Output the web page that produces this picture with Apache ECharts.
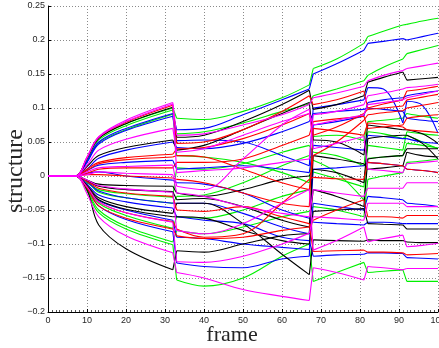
<!DOCTYPE html>
<html>
<head>
<meta charset="utf-8">
<script src="https://cdn.jsdelivr.net/npm/echarts@6/dist/echarts.min.js"></script>
<style>
  html, body { margin: 0; padding: 0; background: #fff; }
  #chart { width: 439px; height: 348px; }
</style>
</head>
<body>
<div id="chart"></div>
<script>
// Key frames of each tracking segment; the structure values jump between segments.
const segmentFrames = [
  [0, 7, 10, 13, 20, 32],
  [33, 40, 50, 60, 67],
  [68, 74, 81],
  [82, 86, 91],
  [92, 96, 100]
];

// One row per trajectory: values at the key frames above, segment after segment.
const greenLines = [
  [0,0,0.026,0.056,0.077,0.100, 0.085,0.083,0.095,0.115,0.134, 0.158,0.172,0.195, 0.205,0.213,0.222, 0.223,0.228,0.232],
  [0,0,0.024,0.053,0.074,0.097, 0.062,0.065,0.078,0.095,0.106, 0.118,0.128,0.140, 0.148,0.160,0.172, 0.180,0.186,0.192],
  [0,0,0.022,0.049,0.068,0.091, 0.030,0.028,0.020,0.005,-0.010, 0.058,0.060,0.052, 0.080,0.082,0.085, 0.092,0.088,0.085],
  [0,0,-0.010,-0.020,-0.026,-0.031, 0.012,0.010,0.018,0.035,0.045, 0.035,0.030,0.015, 0.065,0.062,0.055, 0.060,0.050,0.040],
  [0,0,-0.008,-0.024,-0.032,-0.040, -0.030,-0.028,-0.010,0.015,0.030, 0.023,0.005,-0.035, 0.026,0.028,0.030, 0.048,0.045,0.041],
  [0,0,-0.016,-0.040,-0.058,-0.077, -0.060,-0.062,-0.050,-0.030,-0.020, 0.006,-0.004,-0.016, 0.045,0.042,0.038, 0.065,0.062,0.060],
  [0,0,-0.020,-0.050,-0.074,-0.097, -0.080,-0.085,-0.075,-0.060,-0.052, -0.045,-0.050,-0.060, -0.005,0.000,0.005, 0.020,0.022,0.025],
  [0,0,-0.022,-0.054,-0.078,-0.101, -0.153,-0.162,-0.150,-0.118,-0.100, -0.155,-0.142,-0.127, -0.142,-0.140,-0.138, -0.155,-0.155,-0.155]
];

const blueLines = [
  [0,0,0.022,0.050,0.070,0.092, 0.068,0.070,0.090,0.112,0.128, 0.150,0.165,0.185, 0.195,0.198,0.202, 0.200,0.205,0.210],
  [0,0,0.020,0.047,0.067,0.088, 0.052,0.053,0.050,0.030,0.015, 0.100,0.105,0.112, 0.130,0.128,0.078, 0.110,0.104,0.063],
  [0,0,0.010,0.026,0.038,0.050, 0.042,0.040,0.048,0.065,0.080, 0.092,0.095,0.098, 0.100,0.098,0.095, 0.085,0.082,0.080],
  [0,0,0.008,0.016,0.020,0.023, 0.010,0.012,0.015,0.010,0.005, 0.045,0.042,0.038, 0.060,0.058,0.055, 0.055,0.050,0.048],
  [0,0,0.004,0.006,0.000,-0.006, -0.010,-0.012,-0.025,-0.050,-0.062, -0.068,-0.070,-0.072, -0.068,-0.068,-0.070, -0.070,-0.070,-0.070],
  [0,0,-0.008,-0.022,-0.032,-0.040, -0.040,-0.040,-0.055,-0.075,-0.085, 0.010,0.012,0.015, 0.020,0.018,0.015, 0.010,0.008,0.005],
  [0,0,-0.012,-0.028,-0.038,-0.047, -0.060,-0.065,-0.070,-0.090,-0.095, -0.118,-0.116,-0.115, -0.113,-0.113,-0.114, -0.120,-0.121,-0.122],
  [0,0,-0.016,-0.036,-0.050,-0.065, -0.090,-0.092,-0.100,-0.105,-0.108, -0.040,-0.045,-0.050, -0.030,-0.032,-0.035, -0.040,-0.042,-0.045],
  [0,0,-0.018,-0.044,-0.064,-0.082, -0.128,-0.133,-0.135,-0.122,-0.118, 0.075,0.080,0.088, 0.108,0.112,0.115, 0.118,0.122,0.125]
];

const blackLines = [
  [0,0,0.026,0.055,0.077,0.101, 0.057,0.060,0.080,0.105,0.126, 0.098,0.105,0.118, 0.138,0.145,0.153, 0.141,0.143,0.145],
  [0,0,0.014,0.030,0.042,0.053, 0.038,0.045,0.068,0.092,0.108, 0.053,0.050,0.031, 0.075,0.072,0.068, 0.068,0.062,0.048],
  [0,0,-0.006,-0.012,-0.014,-0.015, -0.025,-0.030,-0.020,-0.005,0.000, 0.010,0.005,-0.010, 0.055,0.058,0.060, 0.060,0.048,0.025],
  [0,0,-0.007,-0.015,-0.020,-0.023, -0.035,-0.033,-0.045,-0.065,-0.075, -0.020,-0.030,-0.045, 0.025,0.028,0.030, 0.040,0.040,0.040],
  [0,0,-0.014,-0.032,-0.045,-0.055, -0.040,-0.040,-0.070,-0.115,-0.145, -0.094,-0.095,-0.096, -0.094,-0.095,-0.095, -0.097,-0.098,-0.098],
  [0,0,-0.015,-0.035,-0.049,-0.060, -0.060,-0.062,-0.080,-0.095,-0.100, -0.052,-0.050,-0.048, -0.070,-0.071,-0.072, -0.078,-0.078,-0.078],
  [0,0,-0.020,-0.072,-0.107,-0.138, -0.110,-0.112,-0.100,-0.088,-0.085, 0.030,0.025,0.018, 0.010,0.012,0.015, 0.035,0.030,0.028]
];

const redLines = [
  [0,0,0.027,0.057,0.079,0.104, 0.048,0.050,0.068,0.095,0.118, 0.105,0.112,0.125, 0.100,0.106,0.112, 0.125,0.128,0.132],
  [0,0,0.010,0.020,0.027,0.032, 0.040,0.042,0.055,0.075,0.092, 0.060,0.072,0.092, 0.098,0.100,0.103, 0.112,0.116,0.120],
  [0,0,0.008,0.018,0.024,0.028, 0.030,0.028,0.010,-0.010,-0.020, 0.030,0.050,0.082, 0.090,0.093,0.096, 0.100,0.104,0.108],
  [0,0,0.004,0.010,0.012,0.012, 0.020,0.020,0.025,0.045,0.060, 0.080,0.084,0.088, 0.070,0.072,0.075, 0.085,0.088,0.090],
  [0,0,0.002,0.002,0.000,-0.003, -0.005,-0.010,-0.025,-0.040,-0.045, 0.070,0.066,0.060, 0.078,0.076,0.072, 0.068,0.066,0.064],
  [0,0,-0.008,-0.018,-0.025,-0.030, -0.050,-0.052,-0.045,-0.060,-0.070, -0.111,-0.110,-0.109, -0.112,-0.112,-0.113, -0.116,-0.115,-0.114],
  [0,0,-0.016,-0.038,-0.054,-0.067, -0.078,-0.090,-0.085,-0.040,-0.005, -0.002,-0.004,-0.005, 0.020,0.018,0.015, 0.010,0.008,0.005],
  [0,0,-0.018,-0.044,-0.062,-0.078, -0.088,-0.092,-0.090,-0.080,-0.075, -0.065,-0.050,-0.035, -0.060,-0.060,-0.062, -0.058,-0.058,-0.058]
];

const magentaLines = [
  [0,0,0.028,0.058,0.082,0.108, 0.060,0.062,0.075,0.090,0.105, 0.115,0.122,0.132, 0.140,0.148,0.155, 0.158,0.162,0.166],
  [0,0,0.027,0.057,0.080,0.106, 0.005,0.008,0.012,0.020,0.025, 0.090,0.095,0.105, 0.118,0.122,0.128, 0.130,0.132,0.135],
  [0,0,0.016,0.038,0.054,0.070, 0.035,0.040,0.060,0.080,0.092, 0.075,0.082,0.090, 0.105,0.108,0.112, 0.115,0.120,0.125],
  [0,0,0.006,0.012,0.014,0.016, -0.015,-0.020,0.025,0.075,0.098, 0.040,0.048,0.058, 0.010,0.008,0.005, 0.018,0.020,0.022],
  [0,0,0.002,0.006,0.004,0.002, -0.025,-0.030,-0.045,-0.055,-0.060, -0.020,-0.025,-0.030, -0.018,-0.018,-0.018, -0.010,-0.010,-0.010],
  [0,0,-0.006,-0.014,-0.019,-0.024, -0.080,-0.085,-0.070,-0.040,-0.020, -0.109,-0.095,-0.075, -0.097,-0.092,-0.087, -0.104,-0.102,-0.099],
  [0,0,-0.016,-0.038,-0.054,-0.068, -0.126,-0.127,-0.118,-0.100,-0.084, -0.060,-0.062,-0.065, -0.040,-0.040,-0.040, -0.045,-0.045,-0.045],
  [0,0,-0.026,-0.060,-0.088,-0.113, -0.142,-0.150,-0.167,-0.177,-0.183, -0.135,-0.142,-0.153, -0.133,-0.135,-0.138, -0.136,-0.136,-0.136]
];

const lineGroups = [
  { rows: greenLines, color: '#00f000' },
  { rows: blueLines, color: '#0000ff' },
  { rows: blackLines, color: '#000000' },
  { rows: redLines, color: '#ff0000' },
  { rows: magentaLines, color: '#ff00ff' }
];

// Each trajectory: one smooth curve per segment (gaps between segments),
// plus straight connectors for the jumps at segment borders.
function trajectorySeries(row, color) {
  const curve = [];
  const jumps = [];
  let i = 0;
  let last = null;
  segmentFrames.forEach((frames, s) => {
    if (s > 0) {
      curve.push([frames[0], null]);
      jumps.push(last, [frames[0], row[i]], [frames[0], null]);
    }
    frames.forEach(f => {
      curve.push([f, row[i]]);
      last = [f, row[i]];
      i++;
    });
  });
  const common = {
    type: 'line', showSymbol: false, symbol: 'none', silent: true,
    connectNulls: false, animation: false,
    lineStyle: { color: color, width: 1.1 }
  };
  return [
    Object.assign({}, common, { data: curve, smooth: 0.35 }),
    Object.assign({}, common, { data: jumps, smooth: false })
  ];
}

const series = [];
lineGroups.forEach(g => g.rows.forEach(r => series.push(...trajectorySeries(r, g.color))));

const tickFont = { fontFamily: 'Liberation Sans, Arial, sans-serif', fontSize: 9, color: '#262626' };
const nameFont = { fontFamily: 'Liberation Serif, Times New Roman, serif', color: '#262626' };
const gridDots = { show: true, lineStyle: { color: '#8a8a8a', width: 1, type: [1, 2] } };

const chart = echarts.init(document.getElementById('chart'), null, { renderer: 'canvas' });
chart.setOption({
  animation: false,
  backgroundColor: '#ffffff',
  grid: { left: 48, right: 1, top: 6, bottom: 36, containLabel: false, outerBoundsMode: 'none' },
  xAxis: {
    type: 'value', min: 0, max: 100, interval: 10,
    name: 'frame', nameLocation: 'middle', nameGap: 12, nameMoveOverlap: false,
    nameTextStyle: Object.assign({ fontSize: 22, padding: [0, 22, 0, 0] }, nameFont),
    axisLine: { show: true, onZero: false, lineStyle: { color: '#000', width: 1 } },
    axisTick: { show: true, inside: true, length: 3, lineStyle: { color: '#000' } },
    minorTick: { show: true, splitNumber: 10, length: 2, lineStyle: { color: '#555' } },
    axisLabel: Object.assign({ margin: 4 }, tickFont),
    splitLine: gridDots
  },
  yAxis: {
    type: 'value', min: -0.2, max: 0.25, interval: 0.05,
    name: 'structure', nameLocation: 'middle', nameGap: 20, nameRotate: 90, nameMoveOverlap: false,
    nameTextStyle: Object.assign({ fontSize: 24, padding: [0, 24, 0, 0] }, nameFont),
    axisLine: { show: true, onZero: false, lineStyle: { color: '#000', width: 1 } },
    axisTick: { show: true, inside: true, length: 3, lineStyle: { color: '#000' } },
    axisLabel: Object.assign({
      margin: 3,
      formatter: v => String(Math.round(v * 100) / 100).replace('-', '\u2212')
    }, tickFont),
    splitLine: gridDots
  },
  series: series
});
</script>
</body>
</html>
